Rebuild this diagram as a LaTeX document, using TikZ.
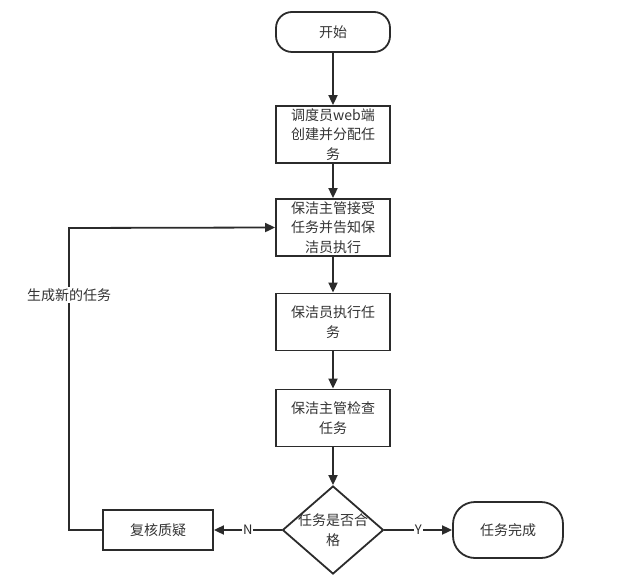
\documentclass[tikz,border=0pt]{standalone}
\usepackage{fontspec}
\setmainfont{Noto Sans CJK SC}
\usetikzlibrary{shapes.geometric,arrows.meta}
\definecolor{ln}{HTML}{2B2B2B}
\definecolor{tx}{HTML}{333333}
\tikzset{
  every node/.style={font=\fontsize{14}{19.5}\selectfont, text=tx},
  proc/.style={draw=ln, line width=1.8pt, minimum width=114pt, minimum height=57pt, inner sep=0pt, align=center},
  term/.style={draw=ln, line width=1.8pt, rounded corners=16pt, inner sep=0pt, align=center},
  dec/.style={diamond, draw=ln, line width=1.8pt, minimum width=101pt, minimum height=88pt, inner sep=0pt},
  conn/.style={draw=ln, line width=1.8pt, -{Triangle[length=10pt,width=9pt]}},
  lbl/.style={fill=white, inner sep=1pt}
}
\begin{document}
\begin{tikzpicture}[x=1pt,y=-1pt]
\useasboundingbox (0,0) rectangle (617,585);
\node[term, minimum width=114pt, minimum height=40pt] (start) at (333,32) {开始};
\node[proc] (b1) at (333,134.5) {调度员web端\\创建并分配任\\务};
\node[proc] (b2) at (333,227.5) {保洁主管接受\\任务并告知保\\洁员执行};
\node[proc] (b3) at (333,322) {保洁员执行任\\务};
\node[proc] (b4) at (333,418) {保洁主管检查\\任务};
\node[dec] (d) at (333,530) {};
\node[align=center, inner sep=0pt] (dt) at (d.center) {任务是否合\\格};
\node[proc, minimum width=110pt, minimum height=40pt] (r) at (158,530) {复核质疑};
\node[term, minimum width=110pt, minimum height=56pt, rounded corners=22pt] (e) at (508,530) {任务完成};
\coordinate (c1) at (69,530);
\coordinate (c2) at (69,228);
\draw[conn] (start) -- (b1);
\draw[conn] (b1) -- (b2);
\draw[conn] (b2) -- (b3);
\draw[conn] (b3) -- (b4);
\draw[conn] (b4) -- (d);
\draw[conn] (d) -- node[lbl, text=ln, font=\fontsize{13}{15}\selectfont] {N} (r);
\draw[conn] (d) -- node[lbl, text=ln, font=\fontsize{13}{15}\selectfont] {Y} (e);
\draw[conn, rounded corners=0pt] (r.west) -- (c1) -- (c2) -- (b2.west);
\node[lbl] (lab) at (69,295) {生成新的任务};
\end{tikzpicture}
\end{document}
